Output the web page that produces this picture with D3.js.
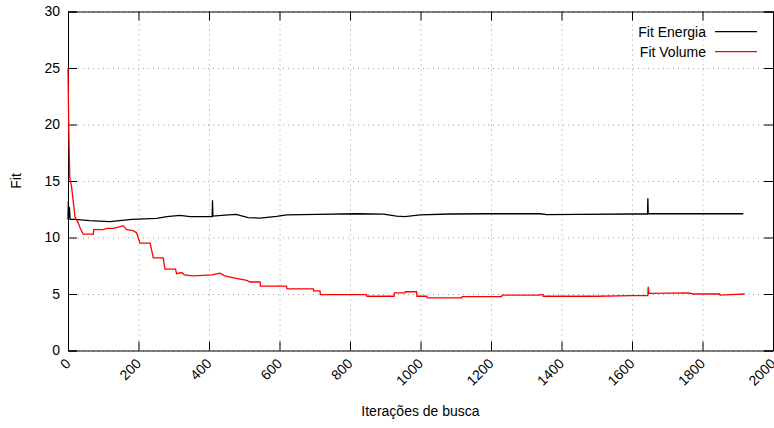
<!DOCTYPE html>
<html>
<head>
<meta charset="utf-8">
<script src="https://cdn.jsdelivr.net/npm/d3@7"></script>
<style>
  body { margin: 0; background: #fff; }
  svg { display: block; font-family: "Liberation Sans", Arial, sans-serif; }
</style>
</head>
<body>
<svg id="vis" width="774" height="428"></svg>
<script>
// series values, [iteration, fit]
const fitEnergia = [
  [0, 11.6], [1, 13.2], [2, 11.7], [4, 12.7], [6, 11.6], [20, 11.6], [60, 11.5],
  [119, 11.4], [181, 11.6], [252, 11.7], [280, 11.85], [318, 11.96], [346, 11.85],
  [398, 11.85], [409, 11.85], [410, 13.3], [411, 11.9], [455, 12.0], [477, 12.05],
  [511, 11.75], [545, 11.72], [592, 11.87], [620, 12.0], [706, 12.05], [819, 12.1],
  [895, 12.07], [932, 11.9], [956, 11.85], [999, 12.0], [1084, 12.08], [1197, 12.1],
  [1339, 12.1], [1358, 12.02], [1452, 12.05], [1604, 12.08], [1644, 12.08],
  [1645, 13.47], [1646, 12.1], [1916, 12.1]
];
const fitVolume = [
  [0, 25], [2, 20], [5, 15.3], [10, 14.5], [20, 11.8], [29, 11.3], [35, 10.8],
  [43, 10.3], [72, 10.3], [73, 10.7], [100, 10.7], [110, 10.8], [130, 10.8],
  [140, 10.9], [157, 11.05], [166, 10.7], [185, 10.6], [195, 10.4], [204, 9.5],
  [233, 9.5], [242, 8.2], [270, 8.2], [275, 7.2], [305, 7.2], [308, 6.8],
  [323, 6.9], [330, 6.7], [355, 6.6], [408, 6.7], [431, 6.85], [445, 6.6],
  [474, 6.4], [507, 6.2], [516, 6.06], [545, 6.06], [546, 5.7], [620, 5.7],
  [621, 5.45], [696, 5.45], [697, 5.27], [715, 5.27], [716, 4.94], [847, 4.94],
  [848, 4.8], [925, 4.8], [926, 5.1], [956, 5.1], [957, 5.2], [989, 5.2],
  [990, 4.8], [1018, 4.8], [1019, 4.65], [1117, 4.65], [1118, 4.76], [1230, 4.76],
  [1231, 4.9], [1339, 4.9], [1340, 4.95], [1347, 4.95], [1348, 4.8], [1500, 4.8],
  [1600, 4.85], [1645, 4.85], [1646, 5.65], [1648, 5.06], [1760, 5.1],
  [1774, 5.0], [1849, 5.0], [1850, 4.9], [1880, 4.95], [1920, 5.0]
];
const xTicks = d3.range(0, 2001, 200);
const yTicks = d3.range(0, 31, 5);
const seriesNames = ["Fit Energia", "Fit Volume"];
const seriesColors = ["#000000", "#ff0000"];

const svg = d3.select('#vis');
const plotLeft = 68, plotRight = 773, plotTop = 11.5, plotBottom = 350.5;

const x = d3.scaleLinear().domain([0, 2000]).range([plotLeft, plotRight]);
const y = d3.scaleLinear().domain([0, 30]).range([plotBottom, plotTop]);

// grid
svg.append('g')
  .attr('transform', `translate(0,${plotBottom})`)
  .call(d3.axisBottom(x).tickValues(xTicks).tickSize(-(plotBottom - plotTop)).tickFormat(''))
  .call(g => g.select('.domain').remove())
  .selectAll('line')
    .attr('stroke', '#a0a0a0')
    .attr('stroke-dasharray', '1,4');
svg.append('g')
  .attr('transform', `translate(${plotLeft},0)`)
  .call(d3.axisLeft(y).tickValues(yTicks).tickSize(-(plotRight - plotLeft)).tickFormat(''))
  .call(g => g.select('.domain').remove())
  .selectAll('line')
    .attr('stroke', '#a0a0a0')
    .attr('stroke-dasharray', '1,4');

// axes, ticks pointing inward on all four sides
const xAxis = svg.append('g')
  .attr('transform', `translate(0,${plotBottom})`)
  .call(d3.axisBottom(x).tickValues(xTicks).tickSize(-9).tickFormat(d3.format('d')));
xAxis.selectAll('text')
  .attr('y', null)
  .attr('dy', null)
  .attr('transform', 'translate(3,14) rotate(-45)')
  .style('text-anchor', 'end');

svg.append('g')
  .attr('transform', `translate(${plotLeft},0)`)
  .call(d3.axisLeft(y).tickValues(yTicks).tickSize(-9).tickPadding(8));

svg.append('g')
  .attr('transform', `translate(0,${plotTop})`)
  .call(d3.axisTop(x).tickValues(xTicks).tickSize(-9).tickFormat(''));
svg.append('g')
  .attr('transform', `translate(${plotRight},0)`)
  .call(d3.axisRight(y).tickValues(yTicks).tickSize(-9).tickFormat(''));

svg.selectAll('.tick text')
  .attr('font-size', 14)
  .attr('font-family', '"Liberation Sans", Arial, sans-serif')
  .attr('fill', '#000');
svg.selectAll('.domain, .tick line').filter(function() { return this.getAttribute('stroke') === 'currentColor'; })
  .attr('stroke', '#000');

// lines
const line = d3.line().x(d => x(d[0])).y(d => y(d[1]));
[fitEnergia, fitVolume].forEach((data, i) => {
  svg.append('path')
    .datum(data)
    .attr('fill', 'none')
    .attr('stroke', seriesColors[i])
    .attr('stroke-width', 1.3)
    .attr('d', line);
});

// legend
const legend = svg.append('g');
seriesNames.forEach((name, i) => {
  const ly = 31.7 + i * 20;
  legend.append('text')
    .attr('x', 706)
    .attr('y', ly)
    .attr('dy', '0.35em')
    .attr('text-anchor', 'end')
    .attr('font-size', 14)
    .text(name);
  legend.append('line')
    .attr('x1', 715).attr('x2', 757)
    .attr('y1', ly).attr('y2', ly)
    .attr('stroke', seriesColors[i])
    .attr('stroke-width', 1.3);
});

// axis titles
svg.append('text')
  .attr('x', (plotLeft + plotRight) / 2)
  .attr('y', 416)
  .attr('text-anchor', 'middle')
  .attr('font-size', 14)
  .text('Iterações de busca');
svg.append('text')
  .attr('transform', `translate(21,181) rotate(-90)`)
  .attr('text-anchor', 'middle')
  .attr('font-size', 14)
  .text('Fit');
</script>
</body>
</html>
